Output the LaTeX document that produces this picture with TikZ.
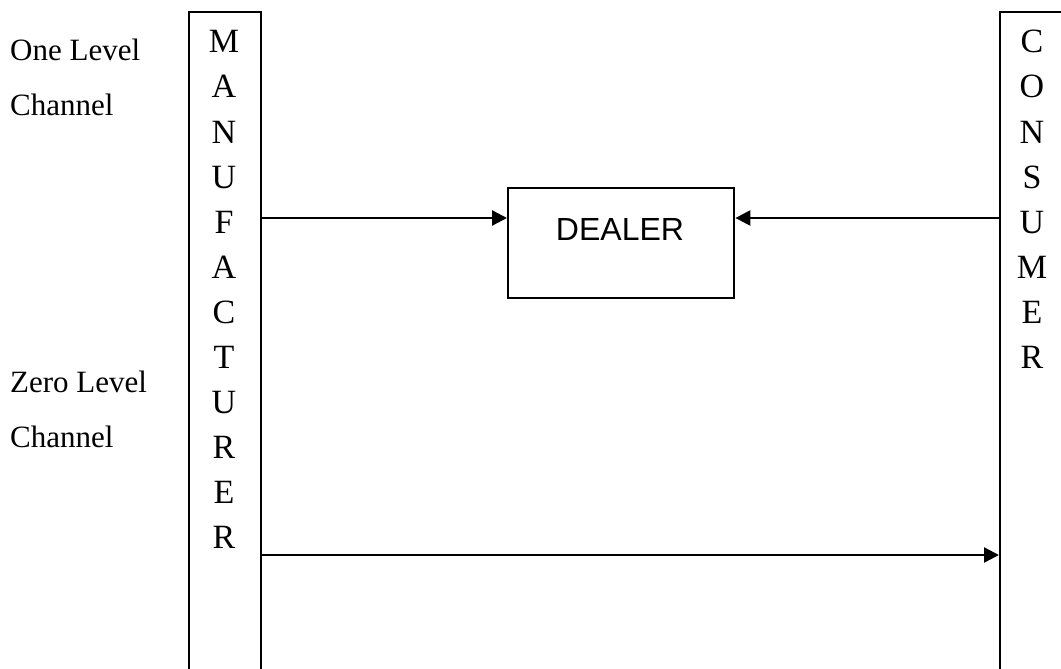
\documentclass[tikz,border=0pt]{standalone}
\usepackage{fontspec}
\setmainfont{Liberation Serif}
\newfontfamily\dealerfont{Liberation Sans}
\usetikzlibrary{arrows.meta}
\begin{document}
\begin{tikzpicture}[x=1pt,y=-1pt,
  lbl/.style={font=\fontsize{31}{31}\selectfont, anchor=base west, inner sep=0pt},
  letter/.style={font=\fontsize{34}{34}\selectfont, anchor=base, inner sep=0pt},
  column/.style={draw, line width=2.4pt, rectangle, inner sep=0pt, minimum height=720pt},
  flow/.style={line width=2.4pt, -{Triangle[length=15pt,width=15pt]}},
  dealerbox/.style={draw, line width=2.4pt, rectangle, inner sep=0pt,
    minimum width=226pt, minimum height=110pt}]
  \useasboundingbox (0,0) rectangle (1061,669);
  \clip (0,0) rectangle (1061,669);

  % channel labels
  \node[lbl] (one1) at (10,61) {One Level};
  \node[lbl] (one2) at (10,116) {Channel};
  \node[lbl] (zero1) at (10,392) {Zero Level};
  \node[lbl] (zero2) at (10,447) {Channel};

  % the two open-ended columns
  \node[column, minimum width=72pt, anchor=north west] (mfr) at (188,11) {};
  \node[column, minimum width=90pt, anchor=north west] (cons) at (999,11) {};

  % spelled-out column letters
  \foreach \ch [count=\i] in {M,A,N,U,F,A,C,T,U,R,E,R}
    \node[letter] (m\i) at (224,{53+45*(\i-1)}) {\ch};
  \foreach \ch [count=\i] in {C,O,N,S,U,M,E,R}
    \node[letter] (c\i) at (1032,{53+45*(\i-1)}) {\ch};

  % dealer
  \node[dealerbox, anchor=north west] (dealer) at (507,187) {};
  \node[font=\dealerfont\fontsize{32}{32}\selectfont, inner sep=0pt, anchor=base] (dealertxt) at (620,240) {DEALER};

  % connectors
  \draw[flow] (mfr.east |- 0,218) -- (dealer.west |- 0,218);
  \draw[flow] (cons.west |- 0,218) -- (dealer.east |- 0,218);
  \draw[flow] (mfr.east |- 0,555) -- (cons.west |- 0,555);
\end{tikzpicture}
\end{document}
